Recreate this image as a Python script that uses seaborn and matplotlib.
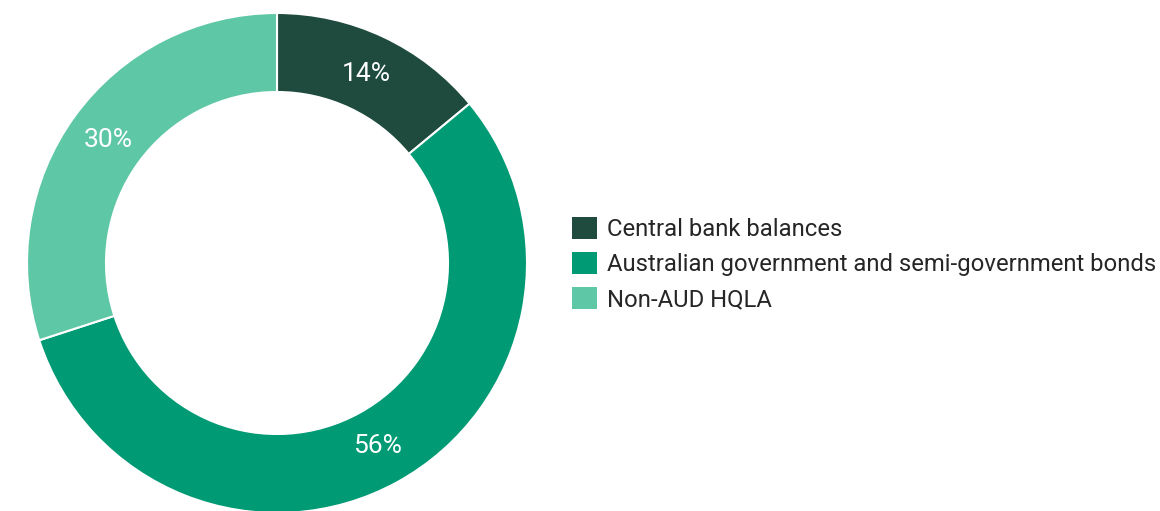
import matplotlib
matplotlib.use("Agg")
import matplotlib.pyplot as plt
import seaborn as sns
import numpy as np

categories = ["Central bank balances",
              "Australian government and semi-government bonds",
              "Non-AUD HQLA"]
values = [14, 56, 30]
labels = ["14%", "56%", "30%"]
colors = ["#1e4b3e", "#009a74", "#5ec7a5"]

sns.set_theme(style="white")
plt.rcParams['font.family'] = ['Roboto', 'DejaVu Sans']

W, H = 1160, 511
fig = plt.figure(figsize=(W / 100, H / 100), dpi=100)
cx, cy, R = 277, H - 263, 250
ax = fig.add_axes([(cx - R) / W, (cy - R) / H, 2 * R / W, 2 * R / H])
wedges, _ = ax.pie(values, colors=colors, startangle=90, counterclock=False,
                   radius=1.0, wedgeprops=dict(width=0.316, edgecolor="white", linewidth=1.5))
start = 90.0
total = sum(values)
for v, lab in zip(values, labels):
    mid = np.deg2rad(start - v / total * 360 / 2)
    r = 0.835
    ax.text(r * np.cos(mid), r * np.sin(mid), lab, ha="center", va="center",
            color="white", fontsize=19)
    start -= v / total * 360
ax.set_xlim(-1, 1)
ax.set_ylim(-1, 1)
ax.set_aspect("equal")
ax.axis("off")

leg = fig.legend(wedges, categories, loc="center left",
                 bbox_to_anchor=(572 / W, 1 - 264 / H), frameon=False,
                 fontsize=17.2, handlelength=1.06, handleheight=1.06,
                 handletextpad=0.42, labelspacing=0.45, borderaxespad=0,
                 borderpad=0)
for h in leg.legend_handles:
    h.set_edgecolor("none")

fig.savefig("out.png", dpi=100)
